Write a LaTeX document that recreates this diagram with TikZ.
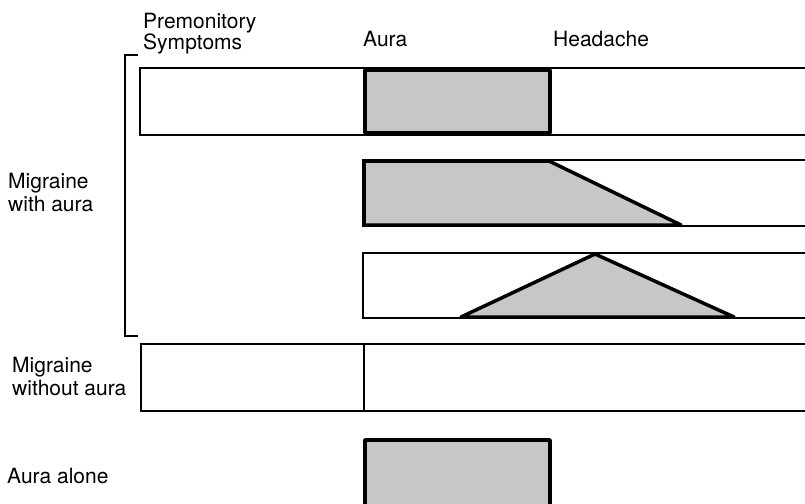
\documentclass[tikz,border=0pt]{standalone}
\usepackage{fontspec}
\setmainfont{TeX Gyre Heros}
\tikzset{
	bar/.style={draw, line width=1.4pt},
	aura/.style={draw, line width=3.5pt, fill=black!22, line join=round},
	lbl/.style={anchor=north west, inner sep=0pt, align=left, font=\fontsize{21}{23}\selectfont},
}
\begin{document}
\begin{tikzpicture}[x=1pt, y=-1pt]
	\useasboundingbox (0,0) rectangle (805,503);
	\clip (0,0) rectangle (805,503);

	% column heads
	\node[lbl, font=\fontsize{21}{19}\selectfont] (premon) at (143,13) {Premonitory\\Symptoms};
	\node[lbl, anchor=base west] (aurahead) at (363,47) {Aura};
	\node[lbl, anchor=base west] (headhead) at (553,47) {Headache};

	% bracket round the three aura rows
	\draw[line width=2.5pt] (138,55) -- (125,55) -- (125,336) -- (138,336);
	\node[lbl] (withaura) at (8,173) {Migraine\\with aura};

	% row 1
	\draw[bar] (810,68) -- (140,68) -- (140,135) -- (810,135);
	\draw[aura] (365,70) rectangle (550,133);

	% row 2
	\draw[bar] (810,160) -- (363,160) -- (363,226) -- (810,226);
	\draw[aura] (364,161) -- (549,161) -- (681,225) -- (364,225) -- cycle;

	% row 3
	\draw[bar] (810,253) -- (363,253) -- (363,318) -- (810,318);
	\draw[aura] (461,317) -- (595,254) -- (734,317) -- cycle;

	% row 4
	\node[lbl] (without) at (12,357) {Migraine\\without aura};
	\draw[bar] (810,344) -- (141,344) -- (141,411) -- (810,411);
	\draw[bar] (364,344) -- (364,411);

	% row 5
	\node[lbl, anchor=base west] (alone) at (7,483) {Aura alone};
	\draw[aura] (365,440) rectangle (550,512);
\end{tikzpicture}
\end{document}
